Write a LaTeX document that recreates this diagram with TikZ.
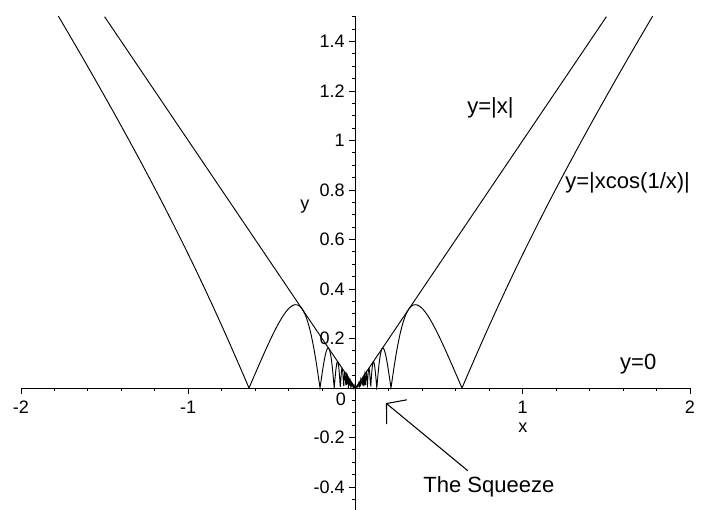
\documentclass[tikz,border=0pt]{standalone}
\usepackage{fontspec}
\setmainfont{Liberation Sans}
\usepackage{tikz}
\usetikzlibrary{arrows.meta}
\tikzset{
  axisline/.style={line width=0.8pt, black},
  curve/.style={line width=0.8pt, black},
  ticklab/.style={inner sep=0pt, font=\fontsize{15.4}{18}\selectfont},
  annot/.style={inner sep=0pt, font=\fontsize{18.8}{22}\selectfont},
  squeezearrow/.style={-{Straight Barb[length=0.4cm,width=0.95cm]}, line width=0.9pt}
}

\begin{document}
\begin{tikzpicture}[x=5.0175cm, y=7.425cm]
  \useasboundingbox (-2.1256,-0.4929) rectangle (2.0777,1.5677);

  % axes
  \draw[axisline] (-2,0) -- (2,0);
  \draw[axisline] (0,-0.5) -- (0,1.5);
  \foreach \k in {-10,...,10} {
    \pgfmathparse{mod(\k,5)==0 ? 0.18 : 0.09}
    \let\tlen\pgfmathresult
    \ifnum\k=0\else
      \draw[axisline] (\k*0.2,0) -- ++(0pt,-\tlen cm);
    \fi
  }
  \foreach \k in {-9,...,30} {
    \pgfmathparse{mod(\k,4)==0 ? 0.21 : 0.12}
    \let\tlen\pgfmathresult
    \draw[axisline] (0,\k*0.05) -- ++(-\tlen cm,0pt);
  }

  % tick labels
  \foreach \v [count=\i] in {-2,-1,1,2}
    \node[ticklab, anchor=north] (xtick\i) at ([yshift=-0.39cm]\v,0) {\v};
  \foreach \v [count=\i] in {1.4,1.2,1,0.8,0.6,0.4,0.2,-0.2,-0.4}
    \node[ticklab, anchor=east] (ytick\i) at ([xshift=-0.315cm]0,\v) {\v};
  \node[ticklab, anchor=base] (origin) at (-0.087,-0.069) {0};
  \node[ticklab, anchor=base] (xname) at (1.001,-0.178) {x};
  \node[ticklab, anchor=base] (yname) at (-0.302,0.723) {y};

  % the two curves
  \begin{scope}
    \clip (-2.1,-0.5) rectangle (2.1,1.5);
    \draw[curve] (-1.5,1.5) -- (0,0) -- (1.5,1.5);
    \draw[curve] plot[domain=0.005:1.85, samples=1000] (\x,{abs(\x*cos(deg(1/\x)))});
    \draw[curve] plot[domain=-1.85:-0.005, samples=1000] (\x,{abs(\x*cos(deg(1/\x)))});
  \end{scope}

  % labels
  \node[annot, anchor=base west] (absx) at (0.667,1.111) {y=|x|};
  \node[annot, anchor=base west] (abscos) at (1.253,0.808) {y=|xcos(1/x)|};
  \node[annot, anchor=base west] (zero) at (1.581,0.073) {y=0};
  \node[annot, anchor=base west] (squeeze) at (0.404,-0.424) {The Squeeze};

  \coordinate (squeezetip) at (0.182,-0.061);
  \draw[squeezearrow] ([xshift=-0.63cm,yshift=0.18cm]squeeze.north) -- (squeezetip);
\end{tikzpicture}
\end{document}
